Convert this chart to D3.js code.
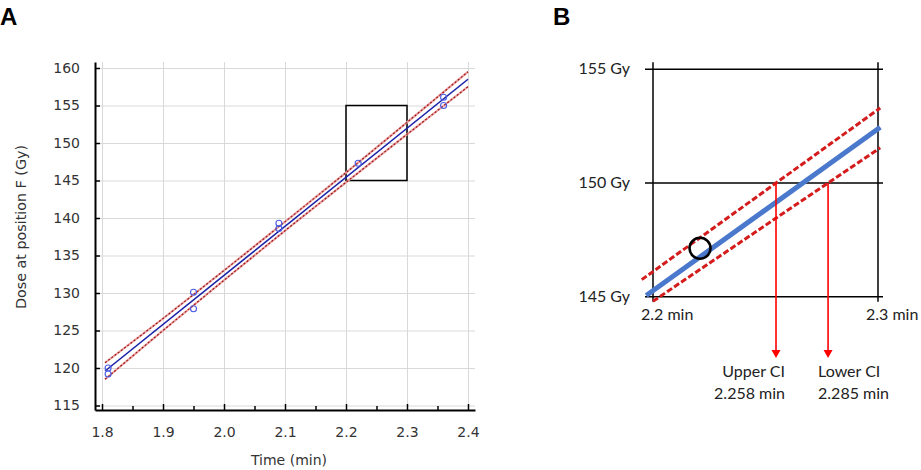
<!DOCTYPE html>
<html>
<head>
<meta charset="utf-8">
<script src="https://cdn.jsdelivr.net/npm/d3@7"></script>
<style>
  body { margin: 0; background: #fff; }
  svg { display: block; }
</style>
</head>
<body>
<svg id="chart" width="921" height="470"></svg>
<script>
// panel A data: measured dose vs time
var ptTime = [1.81, 1.81, 1.95, 1.95, 2.09, 2.09, 2.22, 2.36, 2.36]
var ptDose = [120.0, 119.2, 130.1, 127.9, 139.3, 138.6, 147.3, 156.1, 155.0]

// fitted line and its confidence band
var fitTime = [1.805, 2.4]
var fitDose = [119.6, 158.5]
var ciTime = [1.805, 1.9, 2.0, 2.1, 2.2, 2.3, 2.4]
var ciUpper = [120.7, 126.6, 133.0, 139.5, 146.05, 152.75, 159.5]
var ciLower = [118.5, 125.0, 131.7, 138.3, 144.75, 151.15, 157.5]

var xTicksA = [1.8, 1.9, 2.0, 2.1, 2.2, 2.3, 2.4]
var xMinorA = [1.85, 1.95, 2.05, 2.15, 2.25, 2.35]
var yTicksA = [115, 120, 125, 130, 135, 140, 145, 150, 155, 160]
var zoomBox = [2.2, 2.3, 145, 155]

// panel B: zoom of the box
var bFitTime = [2.197, 2.301]
var bFitDose = [145.05, 152.45]
var bUpperTime = [2.195, 2.301]
var bUpperDose = [145.75, 153.3]
var bLowerTime = [2.2, 2.301]
var bLowerDose = [144.8, 151.55]
var bPoint = [2.2209, 147.13]
var bXTicks = [2.2, 2.3]
var bYTicks = [145, 150, 155]
var ciDoseLevel = 150
var ciLabels = ["Upper CI", "Lower CI"]
var ciValues = ["2.258 min", "2.285 min"]

var svg = d3.select("#chart")

// ---------- panel A ----------
var x = d3.scaleLinear().domain([1.7885, 2.4115]).range([95, 475])
var y = d3.scaleLinear().domain([114.4, 160.8]).range([410, 62])

var gA = svg.append("g")

// grid
gA.append("g")
  .attr("transform", "translate(0,410)")
  .call(d3.axisBottom(x).tickValues(xTicksA).tickSize(-348).tickFormat(""))
  .call(function(g) {
    g.select(".domain").remove()
    g.selectAll("line").attr("stroke", "#d9d9d9")
  })
gA.append("g")
  .attr("transform", "translate(95,0)")
  .call(d3.axisLeft(y).tickValues(yTicksA).tickSize(-380).tickFormat(""))
  .call(function(g) {
    g.select(".domain").remove()
    g.selectAll("line").attr("stroke", "#d9d9d9")
  })

// axes
var xAxis = gA.append("g")
  .attr("transform", "translate(0,410)")
  .call(d3.axisBottom(x).tickValues(xTicksA).tickSize(-6).tickPadding(17).tickSizeOuter(0)
    .tickFormat(d3.format(".1f")))
var xMinor = gA.append("g")
  .attr("transform", "translate(0,410)")
  .call(d3.axisBottom(x).tickValues(xMinorA).tickSize(-4).tickFormat(""))
xMinor.select(".domain").remove()
var yAxis = gA.append("g")
  .attr("transform", "translate(95,0)")
  .call(d3.axisLeft(y).tickValues(yTicksA).tickSize(-5).tickPadding(15).tickSizeOuter(0))

gA.selectAll(".tick text")
  .attr("font-family", "DejaVu Sans")
  .attr("font-size", 14)
  .attr("fill", "#333")
gA.selectAll(".tick line").filter(function() { return this.getAttribute("stroke") !== "#d9d9d9" })
  .attr("stroke", "#000").attr("stroke-width", 1.5)
xAxis.select(".domain").attr("stroke-width", 2)
yAxis.select(".domain").attr("stroke-width", 2)

// zoom box
gA.append("rect")
  .attr("x", x(zoomBox[0]))
  .attr("y", y(zoomBox[3]))
  .attr("width", x(zoomBox[1]) - x(zoomBox[0]))
  .attr("height", y(zoomBox[2]) - y(zoomBox[3]))
  .attr("fill", "none")
  .attr("stroke", "#000")
  .attr("stroke-width", 1.5)

// CI band lines
var lineA = d3.line().x(function(d) { return x(d[0]) }).y(function(d) { return y(d[1]) })
  .curve(d3.curveMonotoneX)
;[ciUpper, ciLower].forEach(function(arr) {
  var pts = ciTime.map(function(t, i) { return [t, arr[i]] })
  gA.append("path").attr("d", lineA(pts))
    .attr("fill", "none").attr("stroke", "#e8a0a0").attr("stroke-width", 2.2)
  gA.append("path").attr("d", lineA(pts))
    .attr("fill", "none").attr("stroke", "#a01818").attr("stroke-width", 1.2)
    .attr("stroke-dasharray", "2,2")
})

// fitted line
gA.append("path")
  .attr("d", lineA(fitTime.map(function(t, i) { return [t, fitDose[i]] })))
  .attr("fill", "none").attr("stroke", "#1a22a8").attr("stroke-width", 1.6)

// points
gA.selectAll("circle.pt")
  .data(ptTime.map(function(t, i) { return [t, ptDose[i]] }))
  .enter()
  .append("circle")
  .attr("class", "pt")
  .attr("cx", function(d) { return x(d[0]) })
  .attr("cy", function(d) { return y(d[1]) })
  .attr("r", 3)
  .attr("fill", "none")
  .attr("stroke", "#4a5be0")
  .attr("stroke-width", 1.1)

// titles
gA.append("text")
  .attr("transform", "translate(26,227) rotate(-90)")
  .attr("text-anchor", "middle")
  .attr("font-family", "DejaVu Sans")
  .attr("font-size", 14.3)
  .attr("fill", "#333")
  .text("Dose at position F (Gy)")
gA.append("text")
  .attr("x", 289).attr("y", 465)
  .attr("text-anchor", "middle")
  .attr("font-family", "DejaVu Sans")
  .attr("font-size", 14)
  .attr("fill", "#333")
  .text("Time (min)")
svg.append("text")
  .attr("x", 0).attr("y", 25)
  .attr("font-family", "Liberation Sans")
  .attr("font-weight", "bold")
  .attr("font-size", 24)
  .text("A")

// ---------- panel B ----------
var xb = d3.scaleLinear().domain([2.2, 2.3]).range([653, 878])
var yb = d3.scaleLinear().domain([145, 155]).range([296.7, 69.3])
var gB = svg.append("g")

gB.selectAll("line.h")
  .data(bYTicks)
  .enter().append("line")
  .attr("x1", xb(2.2) - 8).attr("x2", xb(2.3) + 5)
  .attr("y1", function(d) { return yb(d) }).attr("y2", function(d) { return yb(d) })
  .attr("stroke", "#000").attr("stroke-width", 1.5)
gB.selectAll("line.v")
  .data(bXTicks)
  .enter().append("line")
  .attr("x1", function(d) { return xb(d) }).attr("x2", function(d) { return xb(d) })
  .attr("y1", yb(155) - 7).attr("y2", yb(145) + 5)
  .attr("stroke", "#000").attr("stroke-width", 1.5)

gB.selectAll("text.yl")
  .data(bYTicks)
  .enter().append("text")
  .attr("x", 630)
  .attr("y", function(d) { return yb(d) + 5 })
  .attr("text-anchor", "end")
  .attr("font-family", "Lato")
  .attr("font-size", 16)
  .attr("fill", "#222")
  .text(function(d) { return d + " Gy" })
gB.selectAll("text.xl")
  .data(bXTicks)
  .enter().append("text")
  .attr("x", function(d) { return xb(d) - 12 })
  .attr("y", 320)
  .attr("font-family", "Lato")
  .attr("font-size", 16)
  .attr("fill", "#222")
  .text(function(d) { return d + " min" })

var lineB = d3.line().x(function(d) { return xb(d[0]) }).y(function(d) { return yb(d[1]) })
function pairs(ts, ds) { return ts.map(function(t, i) { return [t, ds[i]] }) }

gB.append("path").attr("d", lineB(pairs(bUpperTime, bUpperDose)))
  .attr("fill", "none").attr("stroke", "#d41c1c").attr("stroke-width", 3)
  .attr("stroke-dasharray", "6,2.5")
gB.append("path").attr("d", lineB(pairs(bLowerTime, bLowerDose)))
  .attr("fill", "none").attr("stroke", "#d41c1c").attr("stroke-width", 3)
  .attr("stroke-dasharray", "6,2.5")
gB.append("path").attr("d", lineB(pairs(bFitTime, bFitDose)))
  .attr("fill", "none").attr("stroke", "#4a78cc").attr("stroke-width", 5)

gB.append("circle")
  .attr("cx", xb(bPoint[0])).attr("cy", yb(bPoint[1]))
  .attr("r", 10.5)
  .attr("fill", "none").attr("stroke", "#000").attr("stroke-width", 2.6)

// where each CI line crosses the 150 Gy level
function crossAt(ts, ds, level) {
  return ts[0] + (level - ds[0]) * (ts[1] - ts[0]) / (ds[1] - ds[0])
}
var crossTimes = [crossAt(bUpperTime, bUpperDose, ciDoseLevel), crossAt(bLowerTime, bLowerDose, ciDoseLevel)]
var arrowEnd = 358

crossTimes.forEach(function(t, i) {
  var ax = xb(t)
  gB.append("line")
    .attr("x1", ax).attr("x2", ax)
    .attr("y1", yb(ciDoseLevel)).attr("y2", arrowEnd - 7)
    .attr("stroke", "#ff0000").attr("stroke-width", 1.6)
  gB.append("path")
    .attr("d", "M" + (ax - 4.5) + "," + (arrowEnd - 8) + "L" + (ax + 4.5) + "," + (arrowEnd - 8) + "L" + ax + "," + arrowEnd + "Z")
    .attr("fill", "#ff0000")
  var anchor = i === 0 ? "end" : "start"
  var tx = i === 0 ? ax + 9 : ax - 10
  gB.append("text")
    .attr("x", tx).attr("y", 377)
    .attr("text-anchor", anchor)
    .attr("font-family", "Lato").attr("font-size", 16).attr("fill", "#222")
    .text(ciLabels[i])
  gB.append("text")
    .attr("x", tx).attr("y", 399)
    .attr("text-anchor", anchor)
    .attr("font-family", "Lato").attr("font-size", 16).attr("fill", "#222")
    .text(ciValues[i])
})

svg.append("text")
  .attr("x", 553).attr("y", 25)
  .attr("font-family", "Liberation Sans")
  .attr("font-weight", "bold")
  .attr("font-size", 24)
  .text("B")
</script>
</body>
</html>
